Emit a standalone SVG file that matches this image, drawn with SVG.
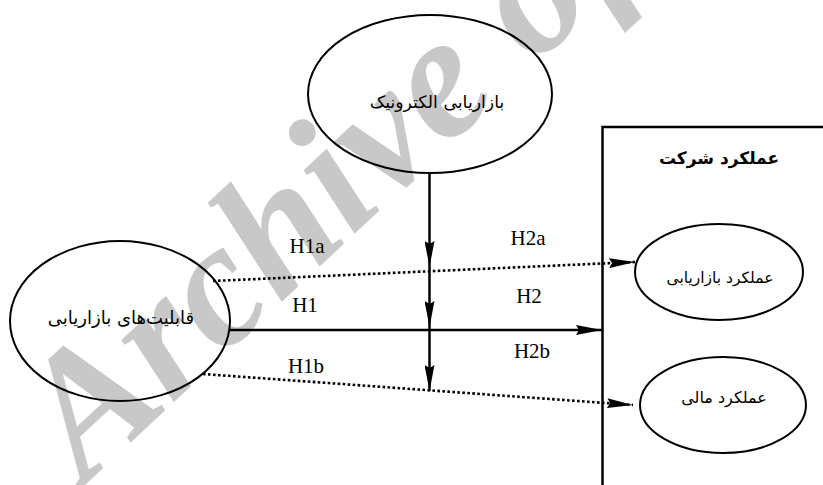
<svg xmlns="http://www.w3.org/2000/svg" width="823" height="485" viewBox="0 0 823 485">
<style>
.node{fill:none;stroke:#000;stroke-width:2}
.fa{font-family:'DejaVu Sans',sans-serif;font-size:17px;fill:#000;text-anchor:middle}
.lbl{font-family:'Liberation Serif','Times New Roman',serif;font-size:21px;fill:#000;text-anchor:middle}
.solid{fill:none;stroke:#000;stroke-width:2.5}
.dot{fill:none;stroke:#000;stroke-width:2.6;stroke-dasharray:2.6 2.4}
.wm{font-family:'Liberation Serif','Times New Roman',serif;font-weight:bold;font-style:italic;font-size:177px;fill:#c8c8c8}
</style>
<defs>
<marker id="ah" viewBox="0 0 26 10" refX="26" refY="5" markerWidth="26" markerHeight="10" markerUnits="userSpaceOnUse" orient="auto">
<path d="M0,0 L26,5 L0,10 L3,5 z" fill="#000"/>
</marker>
</defs>
<rect width="823" height="485" fill="#fff"/>
<text class="wm" transform="translate(85,485) rotate(-43)">Archive of SID</text>
<g id="connectors">
<path class="solid" d="M429.5,173 L429.5,267" marker-end="url(#ah)"/>
<path class="solid" d="M429.5,267 L429.5,327" marker-end="url(#ah)"/>
<path class="solid" d="M429.5,327 L429.5,391" marker-end="url(#ah)"/>
<path class="dot" d="M213,281 L635,262" marker-end="url(#ah)"/>
<path class="solid" d="M230,330 L602,330" marker-end="url(#ah)"/>
<path class="dot" d="M203,374 L633,405" marker-end="url(#ah)"/>
<text class="lbl" x="307" y="253">H1a</text>
<text class="lbl" x="528" y="245">H2a</text>
<text class="lbl" x="305" y="312">H1</text>
<text class="lbl" x="529" y="303">H2</text>
<text class="lbl" x="532" y="358">H2b</text>
<text class="lbl" x="306" y="373">H1b</text>
</g>
<g id="e-marketing">
<ellipse class="node" cx="430" cy="94" rx="122" ry="79"/>
<text class="fa" x="437" y="108" style="font-size:17.3px">بازاریابی الکترونیک</text>
</g>
<g id="marketing-capabilities">
<ellipse class="node" cx="120" cy="321" rx="110" ry="80"/>
<text class="fa" x="121" y="324" style="font-size:18px">قابلیت&#x200C;های بازاریابی</text>
</g>
<g id="firm-performance">
<rect x="602.5" y="127" width="300" height="400" fill="none" stroke="#000" stroke-width="2.5"/>
<text class="fa" x="719" y="164" font-weight="bold" style="font-size:17px">عملکرد شرکت</text>
</g>
<g id="marketing-performance">
<ellipse class="node" cx="719" cy="272" rx="84" ry="48"/>
<text class="fa" x="720" y="283" style="font-size:15.5px">عملکرد بازاریابی</text>
</g>
<g id="financial-performance">
<ellipse class="node" cx="723" cy="405" rx="83" ry="48"/>
<text class="fa" x="724" y="403" style="font-size:16px">عملکرد مالی</text>
</g>
</svg>
